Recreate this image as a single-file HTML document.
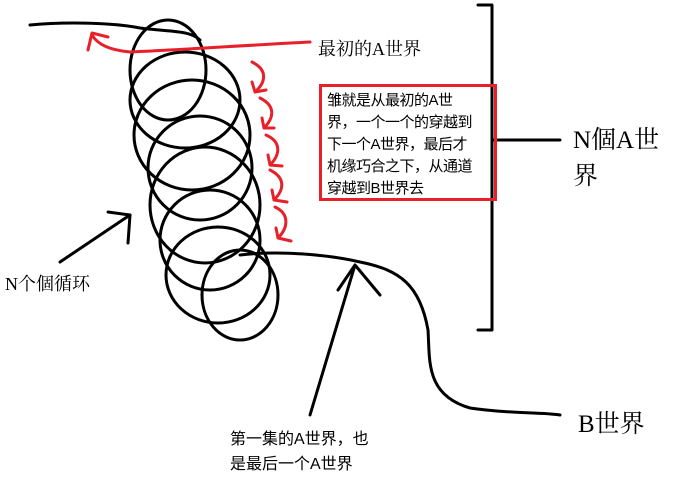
<!DOCTYPE html>
<html><head><meta charset="utf-8"><style>
body{margin:0;background:#fff;width:674px;height:486px;overflow:hidden;position:relative;font-family:"Liberation Serif","Noto Serif CJK SC","Noto Sans CJK SC",serif}
.t{position:absolute;white-space:nowrap;color:#000}
#box{position:absolute;left:319px;top:84px;width:167px;height:108px;border:3px solid #e8202a;font-family:"Liberation Sans","Noto Sans CJK SC",sans-serif;font-size:15px;line-height:22px;padding:3px 0 0 5px;box-sizing:content-box;letter-spacing:-0.5px}
</style></head><body>
<svg width="674" height="486" style="position:absolute;left:0;top:0" fill="none" stroke-linecap="round" stroke-linejoin="round">
<g stroke="#000" stroke-width="3">
<path d="M30 25 C60 22 110 22 140 28 C170 32 190 30 200 40"/>
<ellipse cx="168" cy="70" rx="38" ry="50"/>
<ellipse cx="185" cy="100" rx="55" ry="48"/>
<ellipse cx="192" cy="135" rx="58" ry="55"/>
<ellipse cx="200" cy="168" rx="52" ry="52"/>
<ellipse cx="205" cy="205" rx="55" ry="58"/>
<ellipse cx="210" cy="240" rx="50" ry="50"/>
<ellipse cx="218" cy="275" rx="52" ry="48"/>
<ellipse cx="240" cy="295" rx="38" ry="45"/>
<path d="M240 255 C280 250 330 255 360 262 C400 270 420 285 428 330 C430 360 425 395 470 408 C510 414 540 412 560 415"/>
<path d="M492 5 V330 M478 5 H492 M478 330 H492 M492 140 H560"/>
<path d="M60 262 L130 215 M108 212 L130 215 L128 243"/>
<path d="M310 415 L355 265 M338 290 L355 265 L380 295"/>
</g>
<g stroke="#e8202a" stroke-width="3">
<path d="M310 42 C250 45 180 50 130 52 C110 50 98 45 92 35 M88 50 L92 33 L108 37"/>
<path d="M252 62 C268 70 266 82 255 92 M252 82 L255 92 L266 90"/>
<path d="M260 98 C276 106 274 118 264 128 M262 118 L264 128 L274 128"/>
<path d="M266 135 C282 142 280 155 270 165 M268 155 L270 165 L282 166"/>
<path d="M270 170 C286 178 284 190 274 200 M272 190 L274 200 L287 202"/>
<path d="M275 207 C290 214 288 228 278 238 M276 228 L278 238 L291 241"/>
</g>
</svg>
<div class="t" style="left:318px;top:35px;font-size:18px">最初的A世界</div>
<div id="box">雏就是从最初的A世<br>界，一个一个的穿越到<br>下一个A世界，最后才<br>机缘巧合之下，从通道<br>穿越到B世界去</div>
<div class="t" style="left:573px;top:123px;font-size:25px;line-height:36px">N個A世<br>界</div>
<div class="t" style="left:5px;top:270px;font-size:18px">N个個循环</div>
<div class="t" style="left:578px;top:404px;font-size:25px">B世界</div>
<div class="t" style="left:230px;top:427px;font-size:16px;line-height:25px;font-family:'Liberation Sans','Noto Sans CJK SC',sans-serif">第一集的A世界，也<br>是最后一个A世界</div>
</body></html>
